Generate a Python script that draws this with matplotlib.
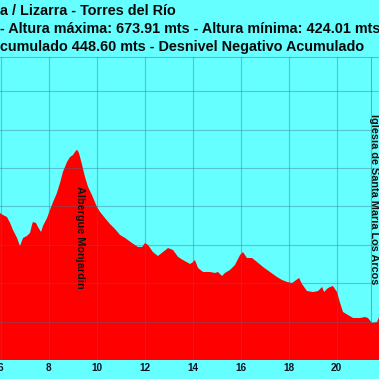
import numpy as np
import matplotlib
matplotlib.use("Agg")
import matplotlib.pyplot as plt

plt.rcParams['font.family'] = ['Liberation Sans', 'DejaVu Sans']

# profile (km, metres)
dist_km = [5.98, 6.10, 6.27, 6.40, 6.52, 6.69, 6.81, 6.94, 7.10, 7.23, 7.31, 7.35,
           7.48, 7.56, 7.69, 7.77, 7.94, 8.06, 8.19, 8.35, 8.48, 8.60, 8.77, 8.90,
           9.02, 9.10, 9.19, 9.27, 9.40, 9.52, 9.65, 9.81, 10.02, 10.15, 10.35, 10.56,
           10.77, 10.98, 11.19, 11.48, 11.73, 11.90, 12.02, 12.15, 12.35, 12.56, 12.77,
           12.98, 13.19, 13.40, 13.60, 13.90, 14.02, 14.10, 14.23, 14.44, 14.73, 14.94,
           15.06, 15.23, 15.35, 15.56, 15.77, 15.98, 16.10, 16.27, 16.48, 16.69, 16.94,
           17.23, 17.52, 17.73, 17.94, 18.15, 18.44, 18.56, 18.77, 19.02, 19.23, 19.40,
           19.48, 19.65, 19.85, 20.02, 20.15, 20.27, 20.48, 20.69, 20.98, 21.19, 21.31,
           21.48, 21.69, 21.77, 21.90]
altitude = [591.4, 588.8, 586.2, 578.4, 569.3, 558.9, 548.4, 558.9, 561.5, 565.4, 575.8, 579.7,
            578.4, 573.2, 566.7, 574.5, 584.9, 595.3, 605.7, 617.4, 630.5, 644.8, 657.8, 664.3,
            666.9, 670.8, 673.9, 669.5, 653.9, 638.3, 625.3, 614.8, 599.2, 592.7, 584.9, 577.1,
            570.6, 562.8, 558.9, 552.3, 547.1, 547.1, 552.3, 549.7, 540.6, 535.4, 540.6,
            545.8, 543.2, 534.1, 530.2, 525.0, 527.6, 530.2, 519.8, 514.6, 514.6, 513.3,
            514.6, 509.4, 513.3, 517.2, 523.7, 536.7, 540.6, 532.8, 532.8, 527.6, 521.1,
            514.6, 508.1, 504.2, 501.6, 500.3, 506.8, 499.0, 489.8, 488.5, 489.8, 495.1,
            488.5, 493.8, 496.4, 488.5, 474.2, 462.5, 458.6, 454.7, 454.7, 456.0, 454.7,
            448.2, 449.5, 456.0, 452.0]

x_ticks = [6, 8, 10, 12, 14, 16, 18, 20]
title_lines = ["a / Lizarra - Torres del Río",
               "- Altura máxima: 673.91 mts - Altura mínima: 424.01 mts",
               "cumulado 448.60 mts - Desnivel Negativo Acumulado"]
poi_names = ["Albergue Monjardin", "Iglesia de Santa Maria Los Arcos"]
poi_km = [9.31, 21.56]
poi_alt = [560, 610]
los_arcos_line_km = 21.44

bg = '#66ffff'
grid_col = '#3a6f8a'

fig = plt.figure(figsize=(3.79, 3.79), dpi=100, facecolor=bg)
ax = fig.add_axes([0, 19 / 379, 1, 303 / 379])
ax.set_facecolor(bg)

ax.fill_between(dist_km, 400, altitude, color='#ff0000', lw=0, zorder=2)

ax.set_xlim(5.979, 21.77)
ax.set_ylim(400, 794.5)
ax.set_xticks(x_ticks)
ax.set_yticks(np.arange(400, 800, 50))
ax.grid(True, color=grid_col, alpha=0.4, lw=0.8, zorder=3)
ax.set_axisbelow(False)
ax.tick_params(axis='x', length=0, pad=2, labelsize=7.2, labelcolor='#111122')
ax.tick_params(axis='y', length=0, labelleft=False)
for lbl in ax.get_xticklabels():
    lbl.set_fontweight('bold')
for side in ['left', 'right', 'bottom']:
    ax.spines[side].set_visible(False)
ax.spines['top'].set_color(grid_col)
ax.spines['top'].set_alpha(0.45)
ax.spines['top'].set_linewidth(0.8)

# marker line for Los Arcos
ax.vlines(los_arcos_line_km, np.interp(los_arcos_line_km, dist_km, altitude), 794.5,
          color=grid_col, alpha=0.5, lw=0.8, zorder=3)

for name, km, alt in zip(poi_names, poi_km, poi_alt):
    ax.text(km, alt, name, rotation=-90, ha='center', va='center',
            fontsize=7.8, fontweight='bold', color='#111111', zorder=4)

for i, line in enumerate(title_lines):
    fig.text(0.0, 1 - (11 + 18.2 * i) / 379, line, ha='left', va='center',
             fontsize=10.4, fontweight='bold', color='#0a0a0a')

fig.savefig('out.png', dpi=100, facecolor=bg)
